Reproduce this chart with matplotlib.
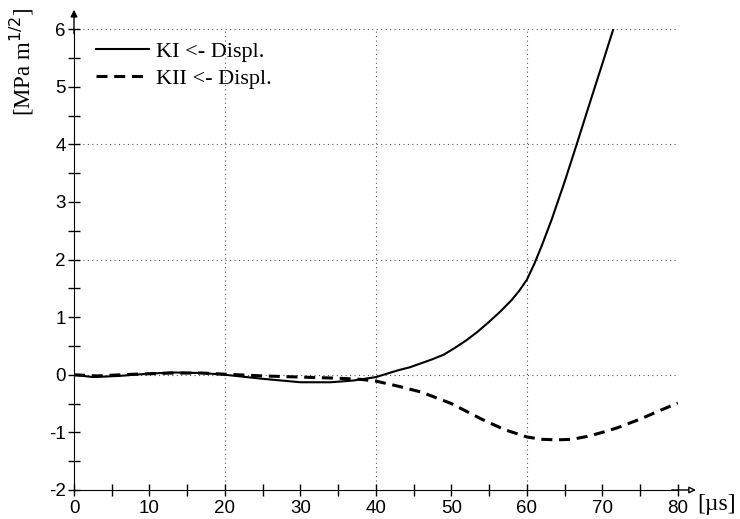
import numpy as np
import matplotlib
matplotlib.use("Agg")
import matplotlib.pyplot as plt
from matplotlib.ticker import MultipleLocator

plt.rcParams["axes.unicode_minus"] = False

# KI <- Displ.
t_ki = [0, 2.5, 6, 10, 13, 17, 20, 25, 30, 34, 37, 40, 43, 44.5, 46, 47.5, 49,
        50.5, 52, 53.5, 55, 56.5, 58, 59, 60, 61, 62, 63.3, 65, 66.6, 68, 70,
        71.5, 72]
k_ki = [0, -0.04, -0.02, 0.02, 0.04, 0.03, 0.0, -0.07, -0.13, -0.13, -0.1, -0.04,
        0.08, 0.13, 0.2, 0.27, 0.35, 0.47, 0.6, 0.75, 0.92, 1.1, 1.3, 1.46, 1.65,
        1.93, 2.25, 2.7, 3.35, 4.0, 4.58, 5.4, 6.02, 6.2]

# KII <- Displ.
t_kii = [0, 3, 8, 13, 17, 20, 25, 30, 35, 38, 40, 43, 46, 50, 54, 57, 60, 62,
         64, 66, 68, 70, 72, 75, 78, 80]
k_kii = [0, -0.02, 0.01, 0.03, 0.03, 0.01, -0.02, -0.04, -0.06, -0.08, -0.11,
         -0.2, -0.3, -0.5, -0.77, -0.95, -1.08, -1.12, -1.13, -1.12, -1.07, -1.0,
         -0.92, -0.77, -0.6, -0.49]

x_ticks = [0, 10, 20, 30, 40, 50, 60, 70, 80]
y_ticks = [-2, -1, 0, 1, 2, 3, 4, 5, 6]

sans = ["Liberation Sans", "DejaVu Sans"]
serif = ["Liberation Serif", "DejaVu Serif"]

fig = plt.figure(figsize=(7.4, 5.19), dpi=100)
ax = fig.add_axes([0.1, 0.0559, 0.816, 0.888])

ax.plot(t_ki, k_ki, color="black", lw=1.5, label="KI <- Displ.")
ax.plot(t_kii, k_kii, color="black", lw=2.2, dashes=(3.6, 2.2), label="KII <- Displ.")

ax.set_xlim(0, 80)
ax.set_ylim(-2, 6)
ax.set_xticks(x_ticks)
ax.set_yticks(y_ticks)
ax.xaxis.set_minor_locator(MultipleLocator(5))
ax.yaxis.set_minor_locator(MultipleLocator(0.5))
ax.tick_params(which="both", direction="inout", length=8, width=1, color="black")
ax.tick_params(axis="x", pad=3)
ax.tick_params(axis="y", pad=2)
for lab in ax.get_xticklabels() + ax.get_yticklabels():
    lab.set_fontfamily(sans)
    lab.set_fontsize(13.5)

for s in ["top", "right"]:
    ax.spines[s].set_visible(False)

# dotted grid
for gx in [20, 40, 60, 80]:
    ax.axvline(gx, color="#555555", lw=0.8, ls=(0, (1, 3)), zorder=0)
for gy in [0, 2, 4, 6]:
    ax.axhline(gy, color="#555555", lw=0.8, ls=(0, (1, 3)), zorder=0)

# axis arrows
ax.annotate("", xy=(0, 1.042), xycoords="axes fraction", xytext=(0, 0.99),
            arrowprops=dict(arrowstyle="-|>", color="black", lw=1, mutation_scale=10,
                            shrinkA=0, shrinkB=0))
ax.annotate("", xy=(1.03, 0), xycoords="axes fraction", xytext=(0.99, 0),
            arrowprops=dict(arrowstyle="-|>", color="black", lw=1, mutation_scale=10,
                            shrinkA=0, shrinkB=0, fc="white"))

leg = ax.legend(loc="upper left", frameon=False, handlelength=2.4,
                handletextpad=0.3, bbox_to_anchor=(0.003, 1.017), labelspacing=0.3,
                prop={"family": serif, "size": 16})

fig.text(0.03, 0.985, r"[MPa m$^{1/2}$]", rotation=90, ha="center", va="top",
         fontsize=16.5, family=serif)
fig.text(0.942, 0.027, "[\u00b5s]", ha="left", va="center", fontsize=17, family=serif)

fig.savefig("out.png", dpi=100)
